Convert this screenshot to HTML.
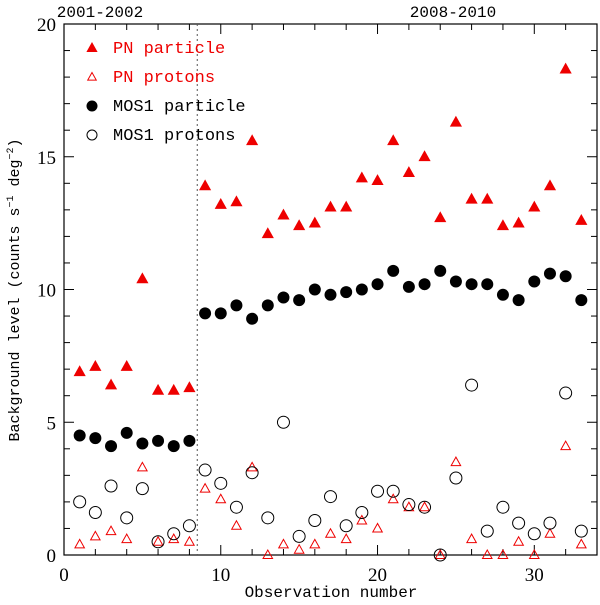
<!DOCTYPE html>
<html><head><meta charset="utf-8"><style>
body{margin:0;background:#fff}
svg text{font-family:"Liberation Mono",monospace}
svg text.num{font-family:"Liberation Serif",serif}
</style></head><body>
<svg id="c" width="600" height="600" xmlns="http://www.w3.org/2000/svg"></svg>
<script>
const obs=[1,2,3,4,5,6,7,8,9,10,11,12,13,14,15,16,17,18,19,20,21,22,23,24,25,26,27,28,29,30,31,32,33];
const pnParticle=[6.9,7.1,6.4,7.1,10.4,6.2,6.2,6.3,13.9,13.2,13.3,15.6,12.1,12.8,12.4,12.5,13.1,13.1,14.2,14.1,15.6,14.4,15.0,12.7,16.3,13.4,13.4,12.4,12.5,13.1,13.9,18.3,12.6];
const pnProtons=[0.4,0.7,0.9,0.6,3.3,0.5,0.6,0.5,2.5,2.1,1.1,3.3,0.0,0.4,0.2,0.4,0.8,0.6,1.3,1.0,2.1,1.8,1.8,0.0,3.5,0.6,0.0,0.0,0.5,0.0,0.8,4.1,0.4];
const mosParticle=[4.5,4.4,4.1,4.6,4.2,4.3,4.1,4.3,9.1,9.1,9.4,8.9,9.4,9.7,9.6,10.0,9.8,9.9,10.0,10.2,10.7,10.1,10.2,10.7,10.3,10.2,10.2,9.8,9.6,10.3,10.6,10.5,9.6];
const mosProtons=[2.0,1.6,2.6,1.4,2.5,0.5,0.8,1.1,3.2,2.7,1.8,3.1,1.4,5.0,0.7,1.3,2.2,1.1,1.6,2.4,2.4,1.9,1.8,0.0,2.9,6.4,0.9,1.8,1.2,0.8,1.2,6.1,0.9];
const xTicks=[0,10,20,30];
const yTicks=[0,5,10,15,20];
const svg=document.getElementById('c');
const NS='http://www.w3.org/2000/svg';
const L=64,R=597,T=24,B=555,XMAX=34,YMAX=20;
const X=v=>L+v*(R-L)/XMAX, Y=v=>B-v*(B-T)/YMAX;
function mk(t,a,parent){const e=document.createElementNS(NS,t);for(const k in a)e.setAttribute(k,a[k]);(parent||svg).appendChild(e);return e;}
const frame=mk('rect',{x:L,y:T,width:R-L,height:B-T,fill:'none',stroke:'#000','stroke-width':1.2});


for(let v=0;v<=XMAX;v+=2){const big=v%10===0;const len=big?10:6;
 const t1=mk('line',{x1:X(v),x2:X(v),y1:B,y2:B-len,stroke:'#000'});
 
 
 const t2=mk('line',{x1:X(v),x2:X(v),y1:T,y2:T+len,stroke:'#000'});
 
 }
for(let v=0;v<=YMAX;v+=1){const big=v%5===0;const len=big?10:6;
 const t1=mk('line',{x1:L,x2:L+len,y1:Y(v),y2:Y(v),stroke:'#000'});
 
 
 const t2=mk('line',{x1:R,x2:R-len,y1:Y(v),y2:Y(v),stroke:'#000'});
 
 }
xTicks.forEach(v=>{const t=mk('text',{x:X(v),y:B+26,'text-anchor':'middle','font-size':19,class:'num'});t.textContent=v;
 
 });
yTicks.forEach(v=>{const t=mk('text',{x:L-8,y:Y(v)+7,'text-anchor':'end','font-size':19,class:'num'});t.textContent=v;
 
 });
const xt=mk('text',{x:331,y:597,'text-anchor':'middle','font-size':16});xt.textContent='Observation number';


const yt=mk('text',{x:0,y:0,'text-anchor':'middle','font-size':15,transform:'translate(19,290) rotate(-90)'});
yt.innerHTML='Background level (counts s<tspan dy="-6" font-size="10">−1</tspan><tspan dy="6"> deg</tspan><tspan dy="-6" font-size="10">−2</tspan><tspan dy="6">)</tspan>';


const dv=mk('line',{x1:X(8.5),x2:X(8.5),y1:T,y2:B,stroke:'#555','stroke-dasharray':'2,3'});


const p1=mk('text',{x:100,y:17,'text-anchor':'middle','font-size':16});p1.textContent='2001-2002';


const p2=mk('text',{x:453,y:17,'text-anchor':'middle','font-size':16});p2.textContent='2008-2010';


function tri(cx,cy,s,fill,stroke){return mk('polygon',{points:`${cx},${cy-s} ${cx-s*0.95},${cy+s*0.7} ${cx+s*0.95},${cy+s*0.7}`,fill:fill,stroke:stroke,'stroke-width':1});}
obs.forEach((o,i)=>{
 const a=tri(X(o),Y(pnParticle[i]),5.5,'#e00','#e00');
 
 
 const b=tri(X(o),Y(pnProtons[i]),5,'none','#e00');
 
 
 const c=mk('circle',{cx:X(o),cy:Y(mosParticle[i]),r:6,fill:'#000'});
 
 
 const d=mk('circle',{cx:X(o),cy:Y(mosProtons[i]),r:6,fill:'none',stroke:'#000','stroke-width':1});
 
 
});
const leg=[['PN particle','#e00','tf'],['PN protons','#e00','to'],['MOS1 particle','#000','cf'],['MOS1 protons','#000','co']];
leg.forEach((l,i)=>{const y=53+i*29;let m;
 if(l[2]==='tf')m=tri(92,y-5,5,'#e00','#e00');
 else if(l[2]==='to')m=tri(92,y-5,4.5,'none','#e00');
 else if(l[2]==='cf')m=mk('circle',{cx:92,cy:y-5,r:5.5,fill:'#000'});
 else m=mk('circle',{cx:92,cy:y-5,r:5,fill:'none',stroke:'#000'});
 
 
 const t=mk('text',{x:113,y:y,'font-size':17,fill:l[1]});t.textContent=l[0];
 
 });
</script>
</body></html>
